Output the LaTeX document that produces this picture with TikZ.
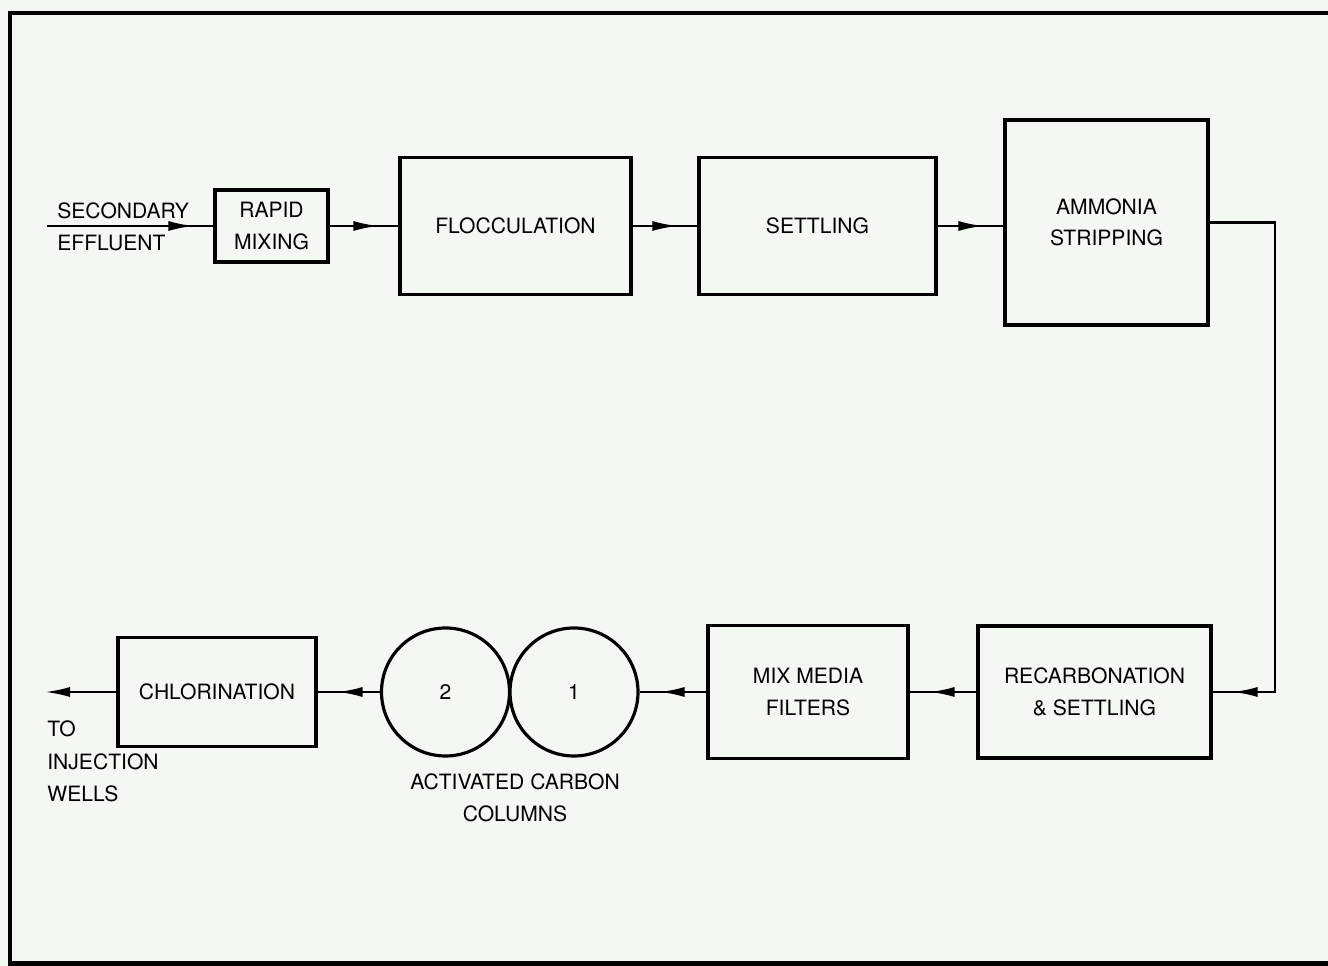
\documentclass[tikz,border=0pt]{standalone}
\usepackage{fontspec}
\setmainfont{TeX Gyre Heros}
\usetikzlibrary{arrows.meta,decorations.markings}
\definecolor{paper}{RGB}{243,248,242}

\begin{document}
\begin{tikzpicture}[
box/.style={draw,line width=1.8pt,inner sep=0pt,align=center,font=\fontsize{12}{18}\selectfont},
column/.style={draw,circle,line width=1.8pt,minimum size=2.56cm,inner sep=0pt,font=\fontsize{12}{18}\selectfont},
txt/.style={inner sep=0pt,font=\fontsize{12}{18.5}\selectfont},
flow/.style={line width=1.3pt,postaction={decorate},
  decoration={markings,mark=at position -0.4cm with {\arrow{Latex[length=5mm,width=2mm]}}}}
]

\useasboundingbox[fill=paper] (0,0) rectangle (26.56,19.32);

% Frame
\draw[line width=2.8pt] (26.56,19.06) -- (0.2,19.06) -- (0.2,0.05) -- (26.56,0.05);

% Upper row
\node[box,minimum width=2.26cm,minimum height=1.44cm] (rapid) at (5.43,14.80) {RAPID\\MIXING};
\node[box,minimum width=4.62cm,minimum height=2.74cm] (flocc) at (10.31,14.80) {FLOCCULATION};
\node[box,minimum width=4.74cm,minimum height=2.74cm] (settling) at (16.35,14.80) {SETTLING};
\node[box,minimum width=4.06cm,minimum height=4.10cm] (ammonia) at (22.13,14.87) {AMMONIA\\STRIPPING};

% Lower row
\node[box,minimum width=4.66cm,minimum height=2.64cm] (recarb) at (21.89,5.48) {RECARBONATION\\\& SETTLING};
\node[box,minimum width=4.00cm,minimum height=2.66cm] (mix) at (16.16,5.48) {MIX MEDIA\\FILTERS};
\node[column] (col1) at (11.48,5.48) {1};
\node[column] (col2) at (8.91,5.48) {2};
\node[box,minimum width=3.96cm,minimum height=2.18cm] (chlor) at (4.34,5.48) {CHLORINATION};

% Labels
\node[txt,anchor=west,align=left] (efflabel) at (1.14,14.78) {SECONDARY\\EFFLUENT};
\node[txt,anchor=west,align=left] (wells) at (0.94,4.09) {TO\\INJECTION\\WELLS};
\node[txt,align=center] (carblabel) at (10.30,3.36) {ACTIVATED CARBON\\COLUMNS};

% Flow
\coordinate (effin) at (0.94,14.80);
\coordinate (turn) at (25.5,5.48);
\coordinate (out) at (0.90,5.48);
\draw[flow] (effin) -- (rapid);
\draw[flow] (rapid) -- (rapid -| flocc.west);
\draw[flow] (flocc) -- (settling);
\draw[flow] (settling.east) -- (settling.east -| ammonia.west);
\draw[flow] (ammonia.east) -| (turn) -- (recarb.east);
\draw[flow] (recarb) -- (mix);
\draw[flow] (mix) -- (col1);
\draw[flow] (col2) -- (chlor);
\draw[line width=1.3pt,-{Latex[length=5mm,width=2mm]}] (chlor) -- (out);

\end{tikzpicture}
\end{document}
